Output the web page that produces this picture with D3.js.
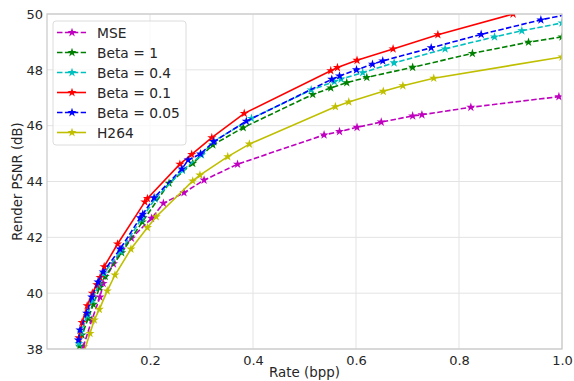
<!DOCTYPE html>
<html>
<head>
<meta charset="utf-8">
<script src="https://cdn.jsdelivr.net/npm/d3@7"></script>
<style>
  body { margin: 0; background: #fff; }
  text { font-family: "DejaVu Sans", sans-serif; fill: #262626; }
</style>
</head>
<body>
<div id="chart"></div>
<script>
// series names, in plotting order
let seriesNames = ['MSE', 'Beta = 1', 'Beta = 0.4', 'Beta = 0.1', 'Beta = 0.05', 'H264'];

// rate (bpp), psnr (dB) per series
let mseRate = [0.0705, 0.087, 0.103, 0.109, 0.129, 0.145, 0.164, 0.203, 0.226, 0.266, 0.305, 0.370, 0.538, 0.568, 0.602, 0.649, 0.710, 0.728, 0.823, 0.994];
let msePsnr = [38.08, 39.04, 39.86, 40.35, 41.05, 41.57, 41.97, 42.68, 43.22, 43.60, 44.05, 44.62, 45.67, 45.79, 45.94, 46.13, 46.35, 46.39, 46.66, 47.04];

let beta1Rate = [0.063, 0.068, 0.080, 0.090, 0.102, 0.113, 0.145, 0.185, 0.237, 0.283, 0.322, 0.381, 0.516, 0.551, 0.582, 0.621, 0.710, 0.826, 0.935, 1.0];
let beta1Psnr = [38.1, 38.5, 39.1, 39.6, 40.2, 40.6, 41.45, 42.55, 43.94, 44.65, 45.31, 45.93, 47.12, 47.35, 47.54, 47.73, 48.09, 48.59, 48.99, 49.18];

let beta04Rate = [0.062, 0.066, 0.078, 0.088, 0.100, 0.110, 0.143, 0.183, 0.210, 0.263, 0.300, 0.323, 0.397, 0.513, 0.558, 0.571, 0.613, 0.674, 0.773, 0.869, 0.922, 1.0];
let beta04Psnr = [38.2, 38.6, 39.2, 39.75, 40.3, 40.7, 41.5, 42.65, 43.38, 44.4, 44.95, 45.43, 46.26, 47.28, 47.58, 47.67, 47.90, 48.25, 48.75, 49.18, 49.40, 49.68];

let beta01Rate = [0.062, 0.068, 0.078, 0.088, 0.0965, 0.103, 0.111, 0.137, 0.190, 0.195, 0.258, 0.281, 0.320, 0.383, 0.551, 0.564, 0.602, 0.672, 0.759, 0.905];
let beta01Psnr = [38.4, 38.95, 39.55, 40.0, 40.3, 40.56, 40.95, 41.76, 43.27, 43.39, 44.62, 44.97, 45.57, 46.44, 47.97, 48.08, 48.34, 48.75, 49.26, 50.0];

let beta005Rate = [0.061, 0.064, 0.077, 0.087, 0.099, 0.109, 0.142, 0.181, 0.186, 0.208, 0.262, 0.274, 0.298, 0.324, 0.387, 0.553, 0.568, 0.601, 0.632, 0.652, 0.746, 0.843, 0.959, 1.04];
let beta005Psnr = [38.32, 38.68, 39.28, 39.86, 40.4, 40.76, 41.58, 42.70, 42.83, 43.42, 44.45, 44.77, 44.99, 45.43, 46.16, 47.66, 47.78, 48.0, 48.2, 48.32, 48.79, 49.27, 49.79, 50.1];

let h264Rate = [0.070, 0.0835, 0.0918, 0.1016, 0.117, 0.132, 0.163, 0.195, 0.212, 0.283, 0.297, 0.351, 0.393, 0.560, 0.586, 0.653, 0.691, 0.751, 1.0];
let h264Psnr = [37.8, 38.56, 39.04, 39.42, 40.08, 40.65, 41.58, 42.35, 42.74, 44.02, 44.23, 44.89, 45.34, 46.68, 46.85, 47.23, 47.43, 47.70, 48.46];

let xTicks = [0.2, 0.4, 0.6, 0.8, 1.0];
let yTicks = [38, 40, 42, 44, 46, 48, 50];

let colors = ['#bf00bf', '#008000', '#00bfbf', '#ff0000', '#0000ff', '#bfbf00'];
let dashed = [true, true, true, false, true, false];

let rates = [mseRate, beta1Rate, beta04Rate, beta01Rate, beta005Rate, h264Rate];
let psnrs = [msePsnr, beta1Psnr, beta04Psnr, beta01Psnr, beta005Psnr, h264Psnr];

let series = seriesNames.map((name, i) => {
    return {
        name: name,
        color: colors[i],
        dashed: dashed[i],
        values: rates[i].map((r, j) => ({ rate: r, psnr: psnrs[i][j] }))
    };
});

let w = 574, h = 381;
let margin = { top: 14, right: 12, bottom: 32, left: 47 };

let svg = d3.select('#chart')
    .append('svg')
    .attr('width', w)
    .attr('height', h);

let xScale = d3.scaleLinear()
    .domain([0, 1.0])
    .range([margin.left, w - margin.right]);

let yScale = d3.scaleLinear()
    .domain([38, 50])
    .range([h - margin.bottom, margin.top]);

// grid
let grid = svg.append('g');
grid.selectAll('.gx')
    .data(xTicks)
    .enter()
    .append('line')
    .attr('x1', d => xScale(d)).attr('x2', d => xScale(d))
    .attr('y1', yScale(38)).attr('y2', yScale(50))
    .attr('stroke', '#e3e3e3').attr('stroke-width', 1);
grid.selectAll('.gy')
    .data(yTicks)
    .enter()
    .append('line')
    .attr('x1', xScale(0)).attr('x2', xScale(1))
    .attr('y1', d => yScale(d)).attr('y2', d => yScale(d))
    .attr('stroke', '#e3e3e3').attr('stroke-width', 1);

// clip to plot area
svg.append('clipPath')
    .attr('id', 'plotclip')
    .append('rect')
    .attr('x', xScale(0)).attr('y', yScale(50))
    .attr('width', xScale(1) - xScale(0))
    .attr('height', yScale(38) - yScale(50));

let line = d3.line()
    .x(d => xScale(d.rate))
    .y(d => yScale(d.psnr));

let star = d3.symbol().type(d3.symbolStar).size(26);

let plot = svg.append('g').attr('clip-path', 'url(#plotclip)');

series.forEach((s) => {
    plot.append('path')
        .datum(s.values)
        .attr('fill', 'none')
        .attr('stroke', s.color)
        .attr('stroke-width', 1.6)
        .attr('stroke-dasharray', s.dashed ? '5.5,2.4' : null)
        .attr('d', line);

    plot.selectAll(null)
        .data(s.values)
        .enter()
        .append('path')
        .attr('d', star)
        .attr('transform', d => 'translate(' + xScale(d.rate) + ',' + yScale(d.psnr) + ')')
        .attr('fill', s.color);
});

// spines
svg.append('rect')
    .attr('x', xScale(0)).attr('y', yScale(50))
    .attr('width', xScale(1) - xScale(0))
    .attr('height', yScale(38) - yScale(50))
    .attr('fill', 'none')
    .attr('stroke', '#c8c8c8')
    .attr('stroke-width', 1.2);

// X axis
let xAxis = d3.axisBottom(xScale)
    .tickValues(xTicks)
    .tickSize(0)
    .tickPadding(7)
    .tickFormat(d3.format('.1f'));
let gx = svg.append('g')
    .attr('transform', 'translate(0,' + yScale(38) + ')')
    .call(xAxis);
gx.select('.domain').remove();
gx.selectAll('text').attr('font-size', '13px').attr('fill', '#262626')
    .attr('font-family', '"DejaVu Sans", sans-serif');

// Y axis
let yAxis = d3.axisLeft(yScale)
    .tickValues(yTicks)
    .tickSize(0)
    .tickPadding(4);
let gy = svg.append('g')
    .attr('transform', 'translate(' + xScale(0) + ',0)')
    .call(yAxis);
gy.select('.domain').remove();
gy.selectAll('text').attr('font-size', '13px').attr('fill', '#262626')
    .attr('font-family', '"DejaVu Sans", sans-serif');

// axis labels
svg.append('text')
    .attr('x', (xScale(0) + xScale(1)) / 2)
    .attr('y', 377)
    .attr('text-anchor', 'middle')
    .attr('font-size', '13.4px')
    .text('Rate (bpp)');

svg.append('text')
    .attr('transform', 'translate(22,' + ((yScale(38) + yScale(50)) / 2) + ') rotate(-90)')
    .attr('text-anchor', 'middle')
    .attr('font-size', '13.2px')
    .text('Render PSNR (dB)');

// legend
let legend = svg.append('g').attr('transform', 'translate(53,21)');
legend.append('rect')
    .attr('width', 133).attr('height', 124)
    .attr('rx', 3)
    .attr('fill', 'rgba(255,255,255,0.8)')
    .attr('stroke', '#dcdcdc');

series.forEach((s, i) => {
    let row = legend.append('g').attr('transform', 'translate(0,' + (11.5 + i * 20) + ')');
    row.append('line')
        .attr('x1', 4).attr('x2', 33)
        .attr('stroke', s.color)
        .attr('stroke-width', 1.6)
        .attr('stroke-dasharray', s.dashed ? '5.5,2.4' : null);
    row.append('path')
        .attr('d', star)
        .attr('transform', 'translate(19,0)')
        .attr('fill', s.color);
    row.append('text')
        .attr('x', 44)
        .attr('y', 5)
        .attr('font-size', '13.8px')
        .text(s.name);
});
</script>
</body>
</html>
